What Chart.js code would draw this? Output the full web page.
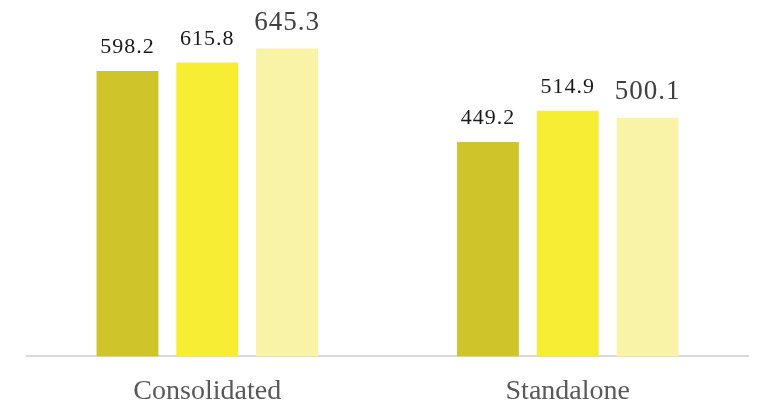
<!DOCTYPE html>
<html>
<head>
<meta charset="utf-8">
<script src="https://cdn.jsdelivr.net/npm/chart.js@4"></script>
<style>
    html, body { margin: 0; padding: 0; background: #fff; }
    #wrap { width: 757px; height: 407px; }
</style>
</head>
<body>
<div id="wrap"><canvas id="barChart"></canvas></div>
<script>
const categories = ['Consolidated', 'Standalone'];
const seriesA = [598.2, 449.2];
const seriesB = [615.8, 514.9];
const seriesC = [645.3, 500.1];

// label styling per series (third series drawn bigger and grey in the source)
const labelStyles = [
    { size: 22, color: '#1a1a1a', gap: 18 },
    { size: 22, color: '#1a1a1a', gap: 18 },
    { size: 27, color: '#404040', gap: 19 }
];

const valueLabels = {
    id: 'valueLabels',
    afterDatasetsDraw(chart) {
        const ctx = chart.ctx;
        chart.data.datasets.forEach((ds, i) => {
            const meta = chart.getDatasetMeta(i);
            const st = labelStyles[i];
            ctx.save();
            ctx.font = `${st.size}px "Liberation Serif", serif`;
            ctx.fillStyle = st.color;
            ctx.textAlign = 'center';
            ctx.textBaseline = 'alphabetic';
            if (ctx.letterSpacing !== undefined) ctx.letterSpacing = '1px';
            meta.data.forEach((bar, j) => {
                ctx.fillText(ds.data[j].toFixed(1), bar.x, bar.y - st.gap);
            });
            ctx.restore();
        });
    }
};

new Chart(document.getElementById('barChart'), {
    type: 'bar',
    data: {
        labels: categories,
        datasets: [
            { label: 'A', data: seriesA, backgroundColor: '#cfc42a' },
            { label: 'B', data: seriesB, backgroundColor: '#f7ee33' },
            { label: 'C', data: seriesC, backgroundColor: '#f9f3a7' }
        ]
    },
    options: {
        responsive: true, maintainAspectRatio: false, animation: false,
        layout: { padding: { left: 27, right: 9, top: 0, bottom: -11 } },
        datasets: { bar: { barPercentage: 0.775, categoryPercentage: 0.664 } },
        scales: {
            x: {
                grid: { display: false },
                border: { display: true, color: '#d9d9d9', width: 2 },
                ticks: { color: '#595959', padding: 10, font: { family: '"Liberation Serif", serif', size: 28 } }
            },
            y: { display: false, min: 0, max: 747 }
        },
        plugins: { legend: { display: false }, tooltip: { enabled: false } }
    },
    plugins: [valueLabels]
});
</script>
</body>
</html>
